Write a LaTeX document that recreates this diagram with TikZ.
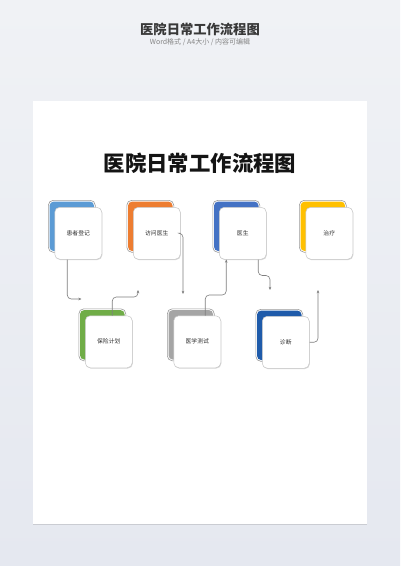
\documentclass[tikz,border=0pt]{standalone}
\usepackage{fontspec}
\setmainfont{Noto Sans CJK SC}
\usetikzlibrary{arrows.meta,shadows}
\definecolor{bgtop}{HTML}{F0F2F5}
\definecolor{bgbot}{HTML}{E5E8F0}
\definecolor{cblue}{HTML}{5B9BD5}
\definecolor{corange}{HTML}{ED7D31}
\definecolor{croyal}{HTML}{4472C4}
\definecolor{cgold}{HTML}{FFC000}
\definecolor{cgreen}{HTML}{70AD47}
\definecolor{cgrey}{HTML}{A5A5A5}
\definecolor{cnavy}{HTML}{1F5BAA}
\definecolor{linegrey}{HTML}{7F7F7F}
\definecolor{txt}{HTML}{303030}
\tikzset{
  backbox/.style={draw=black!40, line width=0.6pt, fill=white, rounded corners=5pt,
    minimum width=47pt, minimum height=52pt, anchor=north west, inner sep=0pt},
  frontbox/.style={draw=black!22, line width=0.5pt, fill=white, rounded corners=5pt,
    minimum width=47pt, minimum height=52pt, anchor=north west, inner sep=0pt,
    font=\fontsize{5.8}{6}\selectfont, text=txt,
    drop shadow={shadow xshift=0.6pt, shadow yshift=-0.8pt, opacity=0.25, fill=black!60}},
  conn/.style={draw=linegrey, line width=0.6pt, rounded corners=4pt,
    -{Stealth[length=3.2pt,width=2.6pt]}},
}
\newcommand{\flowbox}[5]{% name, x, y (front top-left), color, text
  \node[backbox] (b#1) at (#2-6.5,#3-7) {};
  \fill[#4, rounded corners=4pt] ([shift={(1.6pt,-1.6pt)}]b#1.north west) rectangle ([shift={(-1.6pt,1.6pt)}]b#1.south east);
  \node[frontbox] (n#1) at (#2,#3) {#5};
}
\begin{document}
\begin{tikzpicture}[x=1pt,y=-1pt]
\useasboundingbox (0,0) rectangle (400,566);
\shade[top color=bgtop, bottom color=bgbot] (0,0) rectangle (400,566);
% page
\node[fill=white, minimum width=334.5pt, minimum height=423pt, anchor=north west, inner sep=0pt,
  drop shadow={shadow xshift=0pt, shadow yshift=-1pt, opacity=0.12, fill=black}] (page) at (32.5,100.5) {};
% header
\node[font=\bfseries\fontsize{13.3}{14}\selectfont, text=black!78] (head) at (200,29.5) {医院日常工作流程图};
\node[font=\fontsize{7}{8}\selectfont, text=black!48] (sub) at (200,42.5) {Word格式 / A4大小 / 内容可编辑};
\node[font=\bfseries\fontsize{21.4}{24}\selectfont, text=black!92] (title) at (200,163) {医院日常工作流程图};
% boxes
\flowbox{1}{54.5}{207}{cblue}{患者登记}
\flowbox{2}{133}{207}{corange}{访问医生}
\flowbox{3}{219}{207}{croyal}{医生}
\flowbox{4}{305.5}{207}{cgold}{治疗}
\flowbox{5}{85}{315.5}{cgreen}{保险计划}
\flowbox{6}{173.5}{315.5}{cgrey}{医学测试}
\flowbox{7}{262}{316}{cnavy}{诊断}
% connector ends
\coordinate (a1) at (81.5,299);
\coordinate (a2) at (138,290);
\coordinate (a3) at (183,294);
\coordinate (a5) at (270,290);
\coordinate (a6) at (318,290);
% connectors
\draw[conn] ([xshift=-11pt]n1.south) |- (a1);
\draw[conn] ([xshift=3.5pt]n5.north) -- ++(0,-18.5) -| (a2);
\draw[conn] (n2.east) -| (a3);
\draw[conn] ([xshift=8pt]n6.north) -- ++(0,-20.5) -| ([xshift=-16.5pt]n3.south);
\draw[conn] ([xshift=15.5pt]n3.south) -- ++(0,16) -| (a5);
\draw[conn] (n7.east) -| (a6);
\end{tikzpicture}
\end{document}
